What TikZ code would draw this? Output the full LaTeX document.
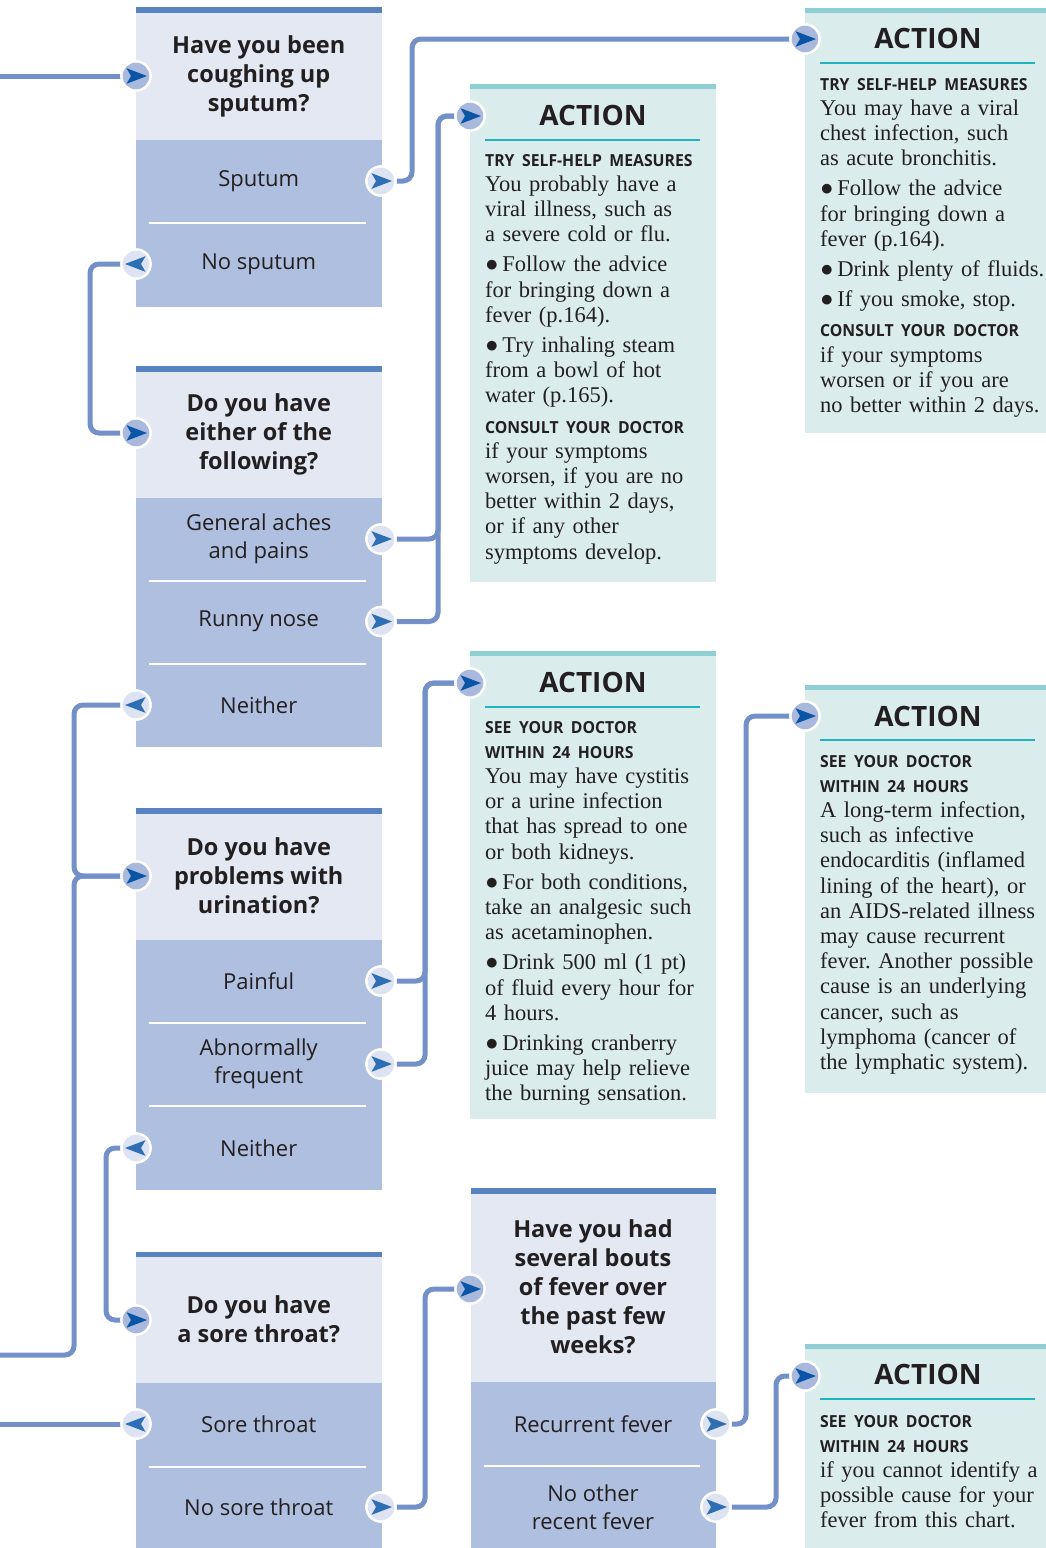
\documentclass[tikz,border=0pt]{standalone}
\usepackage{fontspec}
\setmainfont{Liberation Serif}
\newfontfamily\sansq{Open Sans}
\newfontfamily\hdfont[FakeStretch=0.95]{Open Sans}
\usetikzlibrary{backgrounds}
\definecolor{qlight}{HTML}{E4E8F3}
\definecolor{qdark}{HTML}{AFBFDF}
\definecolor{qbar}{HTML}{5883C1}
\definecolor{connc}{HTML}{7391C8}
\definecolor{alight}{HTML}{DAEDEC}
\definecolor{abar}{HTML}{8ECFD4}
\definecolor{aline}{HTML}{1EB4BE}
\definecolor{cinfill}{HTML}{A9B9DD}
\definecolor{coutfill}{HTML}{DDE3F2}
\definecolor{adark}{HTML}{0A55A5}
\definecolor{amid}{HTML}{2D6EB4}
\definecolor{txt}{HTML}{231F20}
\newcommand\hd{\hdfont\bfseries\fontsize{16.6}{25.2}\selectfont}
\newcommand\blt{●\hspace{3.5pt}}
% disc + arrowhead inside a circle node: #1 node, #2 disc colour, #3 arrow colour, #4 direction (1 right, -1 left)
\newcommand\tipin[4]{\begin{scope}[shift={(#1.center)}, xscale=#4]
  \fill[white] (0,0) circle (15.7);
  \fill[#2] (0,0) circle (13.3);
  \fill[#3] (11,0) -- (-9.5,-7.8) -- (-5,0) -- (-9.5,7.8) -- cycle;
\end{scope}}
\begin{document}
\frenchspacing
\begin{tikzpicture}[x=1pt,y=-1pt,
  qtext/.style={align=center, inner sep=0pt, text=txt, font=\sansq\bfseries\fontsize{23.5}{29}\selectfont},
  atext/.style={align=center, inner sep=0pt, text=txt, font=\sansq\fontsize{22}{28}\selectfont},
  acttitle/.style={inner sep=0pt, anchor=base, text=txt, font=\sansq\bfseries\fontsize{28}{30}\selectfont},
  body/.style={anchor=base west, inner sep=0pt, text width=260pt, align=left, text=txt, font=\frenchspacing\fontsize{22.5}{25.2}\selectfont},
  link/.style={draw=connc, line width=5pt, rounded corners=9pt},
  sepline/.style={draw=white, line width=2pt},
  uline/.style={draw=aline, line width=2.5pt},
  circbase/.style={shape=circle, inner sep=0pt, minimum size=29pt, draw=white, line width=2.4pt},
  cin/.style={circbase, fill=cinfill},
  cout/.style={circbase, fill=coutfill}
]
\useasboundingbox (0,0) rectangle (1046,1548);

% ---------- question boxes ----------
% Q1
\fill[qbar] (136,7) rectangle (381.5,13);
\fill[qlight] (136,13) rectangle (381.5,140);
\fill[qdark] (136,140) rectangle (381.5,306.5);
\draw[sepline] (149,222.5) -- (366,222.5);
% Q2
\fill[qbar] (136,366) rectangle (381.5,371.5);
\fill[qlight] (136,371.5) rectangle (381.5,498);
\fill[qdark] (136,498) rectangle (381.5,747);
\draw[sepline] (149,580.5) -- (366,580.5);
\draw[sepline] (149,663.5) -- (366,663.5);
% Q3
\fill[qbar] (136,808) rectangle (381.5,814);
\fill[qlight] (136,814) rectangle (381.5,940);
\fill[qdark] (136,940) rectangle (381.5,1190);
\draw[sepline] (149,1023) -- (366,1023);
\draw[sepline] (149,1106) -- (366,1106);
% Q4
\fill[qbar] (136,1252) rectangle (381.5,1257);
\fill[qlight] (136,1257) rectangle (381.5,1383);
\fill[qdark] (136,1383) rectangle (381.5,1548);
\draw[sepline] (149,1467) -- (366,1467);
% Q5
\fill[qbar] (470.5,1188) rectangle (716,1194);
\fill[qlight] (470.5,1194) rectangle (716,1382);
\fill[qdark] (470.5,1382) rectangle (716,1548);
\draw[sepline] (483.5,1466) -- (700,1466);

% ---------- action boxes ----------
\fill[abar] (470,84) rectangle (716,89);
\fill[alight] (470,89) rectangle (716,582);
\draw[uline] (485,140) -- (700,140);
\fill[abar] (805,8) rectangle (1046,13);
\fill[alight] (805,13) rectangle (1046,433);
\draw[uline] (820,63) -- (1035,63);
\fill[abar] (470,651) rectangle (716,656);
\fill[alight] (470,656) rectangle (716,1119);
\draw[uline] (485,707) -- (700,707);
\fill[abar] (805,685) rectangle (1046,690);
\fill[alight] (805,690) rectangle (1046,1093);
\draw[uline] (820,740) -- (1035,740);
\fill[abar] (805,1344) rectangle (1046,1349);
\fill[alight] (805,1349) rectangle (1046,1548);
\draw[uline] (820,1399) -- (1035,1399);

% ---------- question texts ----------
\node[qtext] (q1t) at (258.75,76.5) {Have you been\\coughing up\\sputum?};
\node[qtext] (q2t) at (258.75,434) {Do you have\\either of the\\following?};
\node[qtext] (q3t) at (258.75,876) {Do you have\\problems with\\urination?};
\node[qtext] (q4t) at (258.75,1319) {Do you have\\a sore throat?};
\node[qtext] (q5t) at (593,1287) {Have you had\\several bouts\\of fever over\\the past few\\weeks?};

% ---------- answer texts ----------
\node[atext] (s1a) at (258.75,181) {Sputum};
\node[atext] (s1b) at (258.75,264) {No sputum};
\node[atext] (s2a) at (258.75,539) {General aches\\and pains};
\node[atext] (s2b) at (258.75,621.5) {Runny nose};
\node[atext] (s2c) at (258.75,705) {Neither};
\node[atext] (s3a) at (258.75,981) {Painful};
\node[atext] (s3b) at (258.75,1064) {Abnormally\\frequent};
\node[atext] (s3c) at (258.75,1148) {Neither};
\node[atext] (s4a) at (258.75,1424) {Sore throat};
\node[atext] (s4b) at (258.75,1507) {No sore throat};
\node[atext] (s5a) at (593,1424) {Recurrent fever};
\node[atext] (s5b) at (593,1507) {No other\\recent fever};

% ---------- action texts ----------
\node[acttitle] (tA) at (593,125) {ACTION};
\node[acttitle] (tC) at (928,48) {ACTION};
\node[acttitle] (tB) at (593,692) {ACTION};
\node[acttitle] (tD) at (928,726) {ACTION};
\node[acttitle] (tE) at (928,1384) {ACTION};

\node[body] (bA) at (485,166) {{\hd TRY SELF-HELP MEASURES}\\
You probably have a\\
viral illness, such as\\
a severe cold or flu.\\[5pt]
\blt Follow the advice\\
for bringing down a\\
fever (p.164).\\[5pt]
\blt Try inhaling steam\\
from a bowl of hot\\
water (p.165).\\[5pt]
{\hd CONSULT YOUR DOCTOR}\\
if your symptoms\\
worsen, if you are no\\
better within 2 days,\\
or if any other\\
symptoms develop.};

\node[body] (bC) at (820,90) {{\hd TRY SELF-HELP MEASURES}\\
You may have a viral\\
chest infection, such\\
as acute bronchitis.\\[5pt]
\blt Follow the advice\\
for bringing down a\\
fever (p.164).\\[5pt]
\blt Drink plenty of fluids.\\[5pt]
\blt If you smoke, stop.\\[5pt]
{\hd CONSULT YOUR DOCTOR}\\
if your symptoms\\
worsen or if you are\\
no better within 2 days.};

\node[body] (bB) at (485,733) {{\hd SEE YOUR DOCTOR}\\
{\hd WITHIN 24 HOURS}\\
You may have cystitis\\
or a urine infection\\
that has spread to one\\
or both kidneys.\\[5pt]
\blt For both conditions,\\
take an analgesic such\\
as acetaminophen.\\[5pt]
\blt Drink 500 ml (1 pt)\\
of fluid every hour for\\
4 hours.\\[5pt]
\blt Drinking cranberry\\
juice may help relieve\\
the burning sensation.};

\node[body] (bD) at (820,767) {{\hd SEE YOUR DOCTOR}\\
{\hd WITHIN 24 HOURS}\\
A long-term infection,\\
such as infective\\
endocarditis (inflamed\\
lining of the heart), or\\
an AIDS-related illness\\
may cause recurrent\\
fever. Another possible\\
cause is an underlying\\
cancer, such as\\
lymphoma (cancer of\\
the lymphatic system).};

\node[body] (bE) at (820,1427) {{\hd SEE YOUR DOCTOR}\\
{\hd WITHIN 24 HOURS}\\
if you cannot identify a\\
possible cause for your\\
fever from this chart.};

% ---------- arrow circles ----------
\node[cin] (q1in) at (136,76) {};
\node[cout] (sput) at (381,181) {};
\node[cout] (nosp) at (136,264) {};
\node[cin] (q2in) at (136,433) {};
\node[cout] (gen) at (381,539) {};
\node[cout] (runny) at (381,621.5) {};
\node[cout] (nei2) at (136,705) {};
\node[cin] (q3in) at (136,876) {};
\node[cout] (pain) at (381,981) {};
\node[cout] (abn) at (381,1064) {};
\node[cout] (nei3) at (136,1148) {};
\node[cin] (q4in) at (136,1320) {};
\node[cout] (sore) at (136,1424) {};
\node[cout] (nosore) at (381,1507) {};
\node[cin] (q5in) at (470,1289) {};
\node[cout] (recur) at (716,1424) {};
\node[cout] (noother) at (716,1507) {};
\node[cin] (aAin) at (470,116) {};
\node[cin] (aBin) at (470,683) {};
\node[cin] (aCin) at (805,39) {};
\node[cin] (aDin) at (805,716) {};
\node[cin] (aEin) at (805,1376) {};

\foreach \n in {q1in,q2in,q3in,q4in,q5in,aAin,aBin,aCin,aDin,aEin} {\tipin{\n}{cinfill}{adark}{1}}
\foreach \n in {sput,gen,runny,pain,abn,nosore,recur,noother} {\tipin{\n}{coutfill}{amid}{1}}
\foreach \n in {nosp,nei2,nei3,sore} {\tipin{\n}{coutfill}{amid}{-1}}

% ---------- connectors ----------
\coordinate (e1) at (0,76);
\coordinate (e2) at (0,1355);
\coordinate (e3) at (0,1424);
\begin{scope}[on background layer]
\draw[link] (e1) -- (q1in.center);
\draw[link] (sput.center) -- ++(31,0) |- (aCin.center);
\draw[link] (nosp.center) -- ++(-46,0) |- (q2in.center);
\draw[link] (gen.center) -- ++(57,0) |- (aAin.center);
\draw[link] (runny.center) -- ++(57,0) |- (aAin.center);
\draw[link] (nei2.center) -- ++(-62,0) |- (q3in.center);
\draw[link] (e2) -- ++(74,0) |- (q3in.center);
\draw[link] (pain.center) -- ++(44,0) |- (aBin.center);
\draw[link] (abn.center) -- ++(44,0) |- (aBin.center);
\draw[link] (nei3.center) -- ++(-30,0) |- (q4in.center);
\draw[link] (sore.center) -- (e3);
\draw[link] (nosore.center) -- ++(44,0) |- (q5in.center);
\draw[link] (recur.center) -- ++(30,0) |- (aDin.center);
\draw[link] (noother.center) -- ++(60,0) |- (aEin.center);
\end{scope}
\end{tikzpicture}
\end{document}
